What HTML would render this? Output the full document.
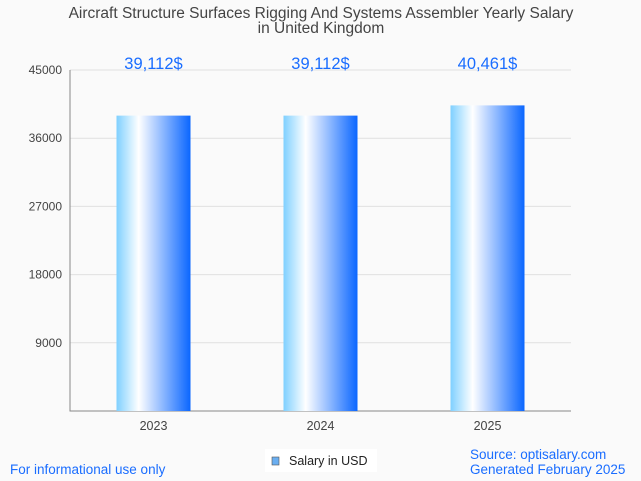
<!DOCTYPE html>
<html><head><meta charset="utf-8"><style>
body{margin:0;background:#fafafa;font-family:"Liberation Sans",sans-serif}
svg{display:block}
</style></head><body>
<svg id="c" width="641" height="481" xmlns="http://www.w3.org/2000/svg">
<defs><linearGradient id="g" x1="0" x2="1" y1="0" y2="0">
<stop offset="0" stop-color="#7fd0ff"/><stop offset="0.3" stop-color="#ffffff"/><stop offset="1" stop-color="#0a66ff"/></linearGradient></defs>
<rect width="641" height="481" fill="#fafafa"/>
<text x="321" y="18" text-anchor="middle" font-size="15.5" fill="#444">Aircraft Structure Surfaces Rigging And Systems Assembler Yearly Salary</text>
<text x="321" y="33" text-anchor="middle" font-size="15.5" fill="#444">in United Kingdom</text>
<g id="grid"></g><g id="bars"></g>
<rect x="265" y="449" width="112" height="23" fill="#fff"/>
<rect x="272" y="457" width="7" height="8" fill="#6aaef0" stroke="#555" stroke-width="0.6"/>
<text x="289" y="465" font-size="12.5" fill="#222">Salary in USD</text>
<text x="10" y="474" font-size="13.5" fill="#1a6dff">For informational use only</text>
<text x="470" y="459" font-size="13.5" fill="#1a6dff">Source: optisalary.com</text>
<text x="470" y="474" font-size="13.5" fill="#1a6dff">Generated February 2025</text>
</svg>
<script>
const categories=["2023","2024","2025"];
const salaries=[39112,39112,40461];
const valueLabels=["39,112$","39,112$","40,461$"];
const yTicks=[9000,18000,27000,36000,45000];
const NS="http://www.w3.org/2000/svg";
const x0=70,x1=571,yB=411,yT=70,yMax=45000;
const y=v=>yB-(v/yMax)*(yB-yT);
const band=(x1-x0)/categories.length;
const xc=i=>x0+band*(i+0.5);
function mk(t,a,p){const e=document.createElementNS(NS,t);for(const k in a)e.setAttribute(k,a[k]);p.appendChild(e);return e;}
const grid=document.getElementById('grid'),bars=document.getElementById('bars');
yTicks.forEach(v=>{
 const l=mk('line',{x1:x0,x2:x1,y1:y(v),y2:y(v),stroke:'#e0e0e0'},grid);
 
 
 const t=mk('text',{x:62,y:y(v)+4,'text-anchor':'end','font-size':12,fill:'#444'},grid);
 t.textContent=v;
 
 
});
const ax=mk('path',{d:`M${x0} ${yT}V${yB}H${x1}`,fill:'none',stroke:'#888'},grid);


categories.forEach((c,i)=>{
 const w=74;
 const r=mk('rect',{x:xc(i)-w/2,y:y(salaries[i])+1,width:w,height:yB-y(salaries[i])-1,fill:'url(#g)'},bars);
 
 
 const t=mk('text',{x:xc(i),y:69,'text-anchor':'middle','font-size':16.5,fill:'#1a6dff'},bars);
 t.textContent=valueLabels[i];
 
 
 const xl=mk('text',{x:xc(i),y:430,'text-anchor':'middle','font-size':12.5,fill:'#444'},bars);
 xl.textContent=c;
 
 
});
</script>
</body></html>
